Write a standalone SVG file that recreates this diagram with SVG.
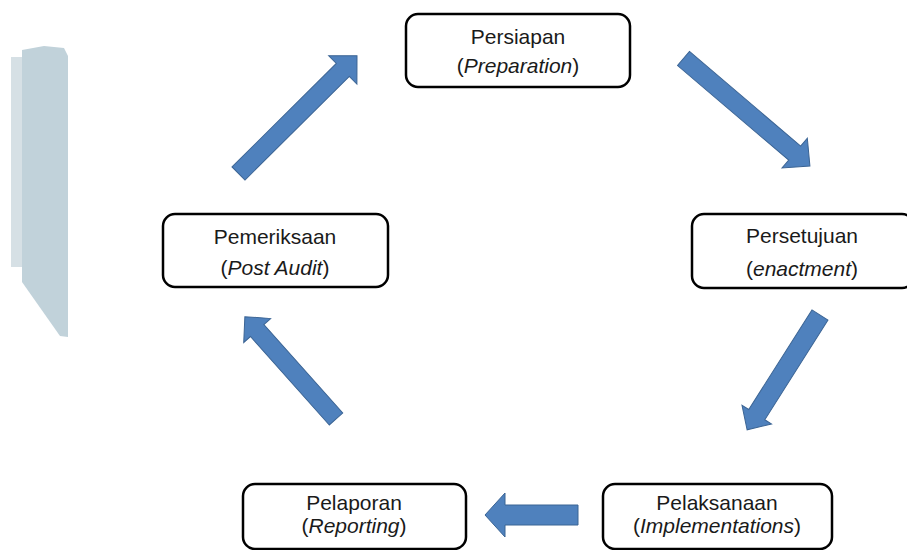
<svg xmlns="http://www.w3.org/2000/svg" width="907" height="550" viewBox="0 0 907 550">
<style>
.box{fill:#ffffff;stroke:#000000;stroke-width:2.5}
.t{font-family:"Liberation Sans",Arial,sans-serif;font-size:21px;fill:#1a1a1a;text-anchor:middle}
.i{font-style:italic}
.arr{fill:#4f81bd;stroke:#3b6494;stroke-width:1}
</style>
<rect width="907" height="550" fill="#ffffff"/>
<g id="watermark">
<rect x="11" y="57" width="11" height="210" fill="#d6e0e5"/>
<polygon points="22,50 44,46 64,48 68,56 68,337 60,336 22,282" fill="#c1d2da"/>
</g>
<g id="connectors">
<polygon class="arr" transform="translate(238.5,173.5) rotate(-44.8)" points="0,-9.2 147,-9.2 147,-20 167,0 147,20 147,9.2 0,9.2"/>
<polygon class="arr" transform="translate(683.5,58.5) rotate(40.4)" points="0,-9.2 146,-9.2 146,-19.5 166,0 146,19.5 146,9.2 0,9.2"/>
<polygon class="arr" transform="translate(820,315) rotate(122.4)" points="0,-9.5 118,-9.5 118,-17.5 136,0 118,17.5 118,9.5 0,9.5"/>
<polygon class="arr" transform="translate(578,515) rotate(180)" points="0,-10 73,-10 73,-22 93,0 73,22 73,10 0,10"/>
<polygon class="arr" transform="translate(336,419) rotate(-131.7)" points="0,-9 118.5,-9 118.5,-18 137,0 118.5,18 118.5,9 0,9"/>
</g>
<g id="persiapan">
<rect class="box" x="406" y="14" width="224" height="73" rx="12"/>
<text class="t" x="518" y="44">Persiapan</text>
<text class="t" x="518" y="73">(<tspan class="i">Preparation</tspan>)</text>
</g>
<g id="persetujuan">
<rect class="box" x="692" y="214" width="222" height="74" rx="12"/>
<text class="t" x="802" y="243">Persetujuan</text>
<text class="t" x="802" y="276">(<tspan class="i">enactment</tspan>)</text>
</g>
<g id="pelaksanaan">
<rect class="box" x="603" y="484" width="229" height="65" rx="12"/>
<text class="t" x="717" y="510">Pelaksanaan</text>
<text class="t" x="717" y="533">(<tspan class="i">Implementations</tspan>)</text>
</g>
<g id="pelaporan">
<rect class="box" x="243" y="484" width="223" height="65" rx="12"/>
<text class="t" x="354" y="510">Pelaporan</text>
<text class="t" x="354" y="533">(<tspan class="i">Reporting</tspan>)</text>
</g>
<g id="pemeriksaan">
<rect class="box" x="163" y="214" width="225" height="73" rx="12"/>
<text class="t" x="275" y="244">Pemeriksaan</text>
<text class="t" x="275" y="275">(<tspan class="i">Post Audit</tspan>)</text>
</g>
</svg>
